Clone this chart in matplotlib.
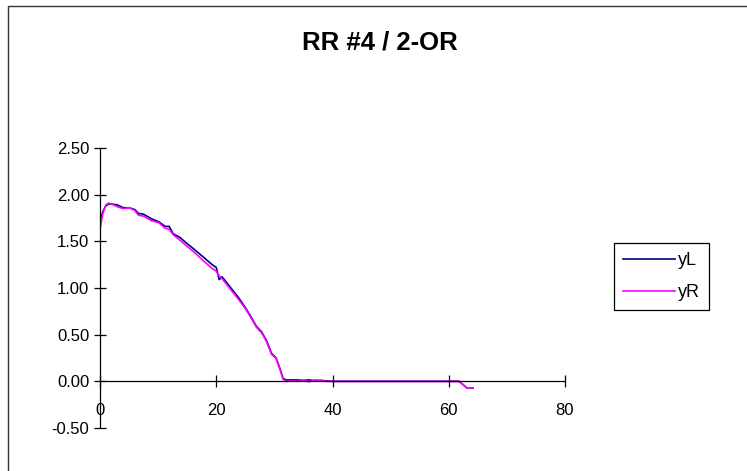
import matplotlib
matplotlib.use("Agg")
import matplotlib.pyplot as plt
from matplotlib.patches import Rectangle

plt.rcParams['font.family'] = ['Liberation Sans', 'DejaVu Sans']

# data
x = [0, 0.5, 1, 1.5, 2, 3, 4, 5, 6, 6.6,
     7.5, 8.9, 10.1, 11.2, 11.9, 12.6, 13.8, 14.7, 16.1, 17.8,
     19.3, 20.0, 20.5, 21, 22.4, 23.8, 25.0, 25.8, 26.9, 27.8,
     28.7, 29.5, 30.3, 31.0, 31.5, 32.1, 33, 34, 35, 36,
     37, 38, 39, 40, 45, 50, 55, 60, 61.8, 63.1, 64.2]
yL = [1.72, 1.82, 1.88, 1.90, 1.90, 1.89, 1.86, 1.86, 1.84, 1.80,
      1.79, 1.74, 1.71, 1.66, 1.66, 1.58, 1.54, 1.49, 1.42, 1.33,
      1.25, 1.22, 1.09, 1.12, 1.01, 0.90, 0.79, 0.71, 0.59, 0.53,
      0.43, 0.30, 0.25, 0.13, 0.03, 0.015, 0.015, 0.015, 0.01, 0.015,
      0.005, 0.01, 0.005, 0, 0, 0, 0, 0, 0, -0.07, -0.07]
yR = [1.63, 1.80, 1.89, 1.91, 1.90, 1.87, 1.85, 1.86, 1.83, 1.78,
      1.77, 1.72, 1.70, 1.64, 1.63, 1.57, 1.51, 1.46, 1.39, 1.29,
      1.21, 1.18, 1.13, 1.10, 0.99, 0.88, 0.78, 0.70, 0.58, 0.52,
      0.42, 0.29, 0.245, 0.12, 0.02, 0.0, 0.005, 0.0, 0.01, -0.005,
      0.015, 0.01, 0.0, 0, 0, 0, 0, 0, 0, -0.07, -0.07]

xticks = [0, 20, 40, 60, 80]
yticks = [-0.5, 0, 0.5, 1.0, 1.5, 2.0, 2.5]

W, H = 747, 471
fig = plt.figure(figsize=(W / 100, H / 100), dpi=100)
ax = fig.add_axes([100 / W, 1 - 428 / H, 465 / W, 280 / H])

ax.plot(x, yL, color='#000080', lw=1.2, label='yL')
ax.plot(x, yR, color='#FF00FF', lw=1.2, label='yR')

ax.set_xlim(0, 80)
ax.set_ylim(-0.5, 2.5)
ax.set_xticks(xticks)
ax.set_yticks(yticks)
ax.set_yticklabels(['%.2f' % v for v in yticks])

ax.spines['top'].set_visible(False)
ax.spines['right'].set_visible(False)
ax.spines['bottom'].set_position(('data', 0))
for s in ['left', 'bottom']:
    ax.spines[s].set_linewidth(0.9)

ax.tick_params(axis='both', direction='inout', length=8.6, width=0.9,
               labelsize=12, colors='black')
ax.tick_params(axis='x', pad=11.5)
ax.tick_params(axis='y', pad=3.5)

# title
fig.text(380 / W, 1 - 42.5 / H, 'RR #4 / 2-OR', ha='center', va='center',
         fontsize=18.5, fontweight='bold')

# legend
leg = fig.legend(loc='upper left', bbox_to_anchor=(614 / W, 1 - 243 / H),
                 bbox_transform=fig.transFigure, borderaxespad=0,
                 fontsize=13, handlelength=2.9, handletextpad=0.15,
                 labelspacing=0.85, fancybox=False, framealpha=1,
                 edgecolor='black', borderpad=0.5)
leg.get_frame().set_linewidth(0.9)

# outer chart border (runs past right and bottom edges)
fig.add_artist(Rectangle((7.5 / W, -0.1), 1.2, 1.1 - 6 / H, fill=False,
                         transform=fig.transFigure, lw=1.0, edgecolor='#333333'))

fig.savefig('out.png', dpi=100)
